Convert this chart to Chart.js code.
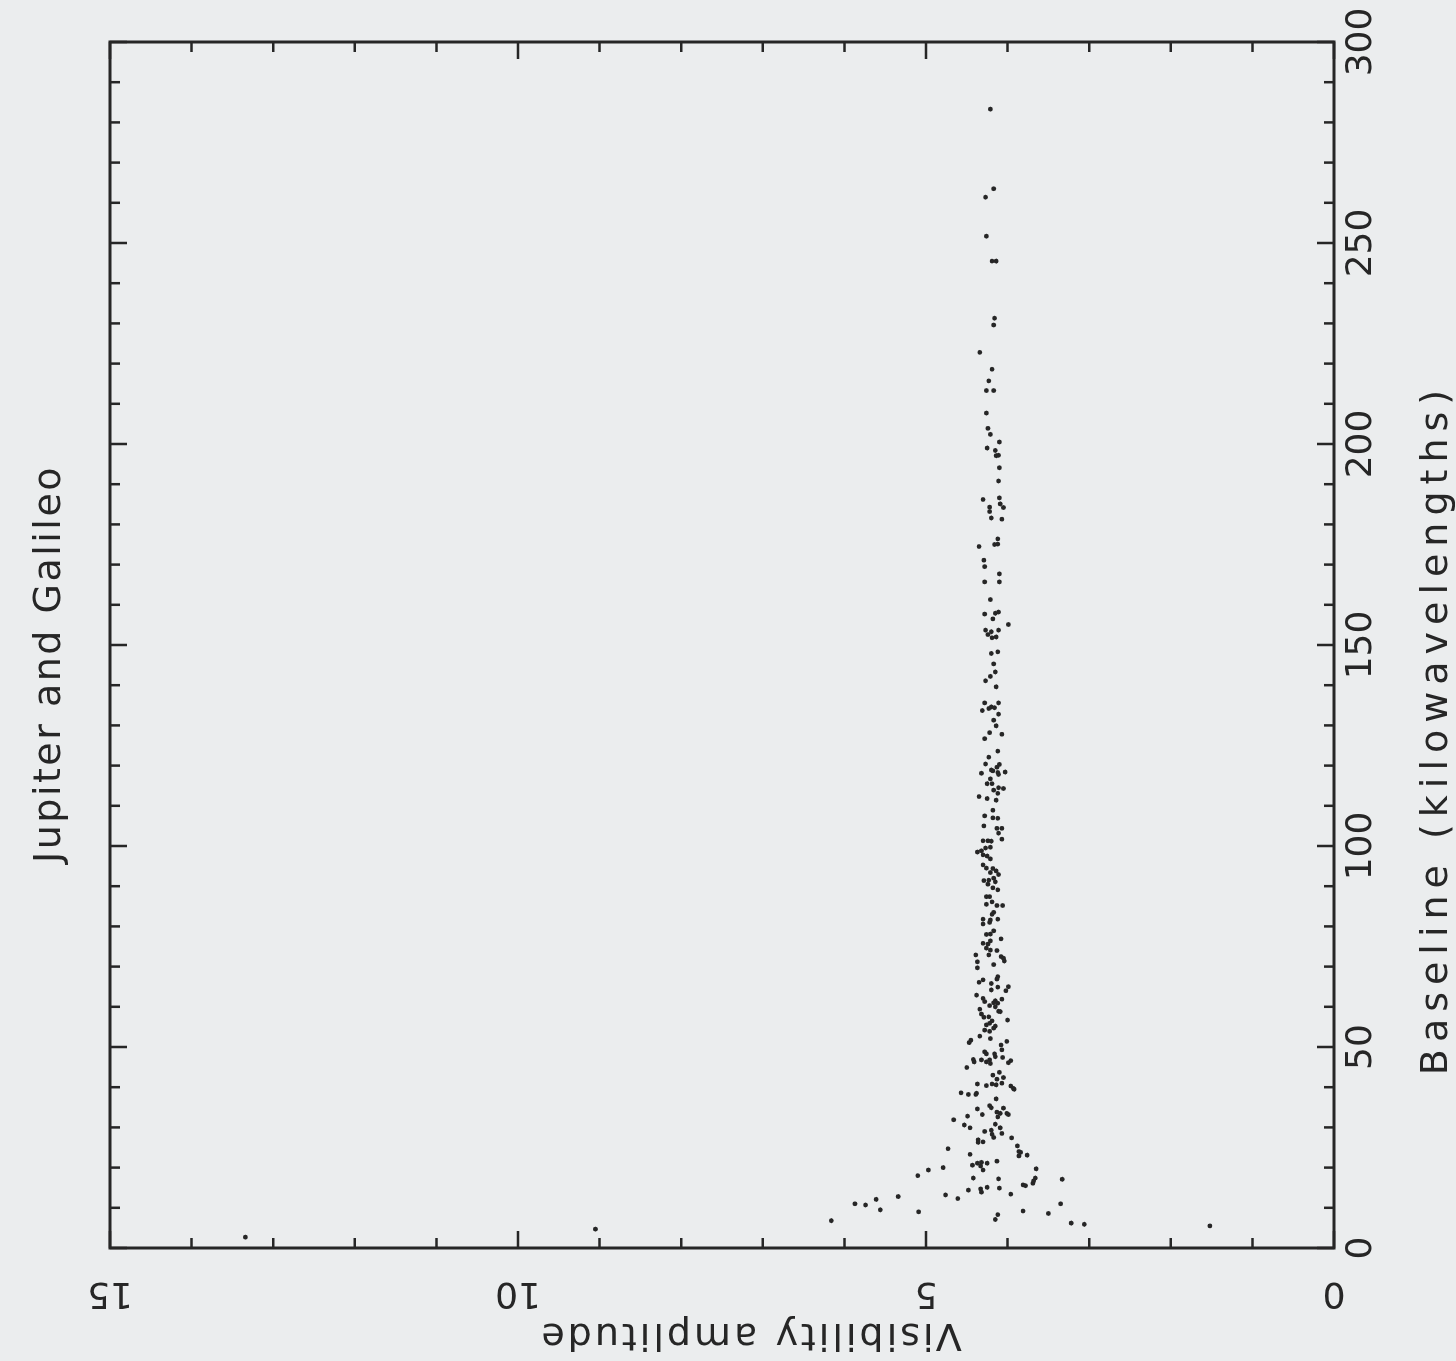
<!DOCTYPE html>
<html>
<head>
<meta charset="utf-8">
<script src="https://cdn.jsdelivr.net/npm/chart.js@4.4.1/dist/chart.umd.min.js"></script>
<style>
  html, body { margin: 0; padding: 0; overflow: hidden; background: #ebedee; }
  #page { position: relative; width: 1456px; height: 1361px; overflow: hidden; }
  /* the plot is drawn upright and turned a quarter turn, like the scanned page */
  #plot { position: absolute; left: 0; top: 0; transform-origin: 0 0; transform: translate(0, 1361px) rotate(-90deg); }
</style>
</head>
<body>
<div id="page"><canvas id="plot" width="1361" height="1456"></canvas></div>
<script>
const titleText = "Jupiter and Galileo";
const xTitle = "Baseline (kilowavelengths)";
const yTitle = "Visibility amplitude";
const xMajorTicks = [0, 50, 100, 150, 200, 250, 300];
const yMajorTicks = [0, 5, 10, 15];

// baseline (kilowavelengths)
const baseline = [
  283.3, 263.5, 261.4, 251.7, 245.5, 245.5,
  231.3, 229.6, 222.8, 218.6, 215.7, 213.3, 213.3, 207.7, 203.9, 202.4, 200.5, 199.0, 198.4, 197.1, 197.2, 194.1, 190.8, 186.2, 186.6, 185.1, 184.2, 184.3, 183.2, 181.6, 181.3,
  176.4, 175.0, 175.1, 174.5, 171.1, 169.5, 167.7, 165.7, 165.7, 161.3, 157.7, 157.9, 158.2, 156.5, 155.1, 153.7, 152.6, 153.3, 153.7, 151.8, 152.0, 147.9, 148.3, 145.3, 143.3, 142.2, 141.1, 139.6, 135.6, 135.6, 134.2, 134.6, 134.4, 133.7, 132.8, 131.3, 129.9, 128.2, 127.8, 126.7,
  123.6, 122.1, 120.4, 120.3, 119.6, 118.1, 118.7, 118.3, 117.8, 118.4, 118.9, 116.7, 115.5, 115.5, 114.5, 114.3, 113.9, 113.1, 112.3, 111.8, 111.4, 108.9, 107.5, 107.0, 106.9, 105.0, 104.4, 104.4, 103.2, 101.7, 101.3, 101.3, 101.2, 98.5, 98.8, 99.5, 99.7, 97.8, 97.5, 96.8, 95.3, 94.5, 94.4, 93.4, 93.8, 92.9, 91.4, 91.5, 92.0, 91.1, 90.5, 89.6, 89.1, 87.4, 87.4, 86.1, 85.5, 85.2, 85.2, 83.5, 83.0, 81.8, 81.6, 81.8, 80.6, 81.0, 78.9, 78.0, 78.1, 76.9, 75.8, 75.6, 76.4, 74.6, 74.1, 74.0, 72.9, 72.9, 72.5, 72.1,
  71.2, 69.7, 70.5, 71.4, 67.5, 66.9, 66.1, 66.7, 65.8, 64.2, 64.9, 65.0, 64.0, 62.9, 62.1, 61.3, 61.5, 60.9, 61.0, 61.9, 60.3, 60.0, 59.4, 58.9, 58.8, 58.2, 57.4, 57.5, 56.5, 55.9, 55.5, 56.7, 55.2, 54.7, 54.2, 53.9, 52.7, 52.1, 51.7, 51.1, 51.4, 50.5, 49.3, 48.8, 48.3, 48.3, 47.6, 46.9, 46.3, 46.8, 46.3, 46.8, 45.9, 47.4, 46.6, 46.1, 44.9, 43.0, 43.7, 42.0, 42.4, 40.8, 40.4, 40.8, 40.6, 41.0, 40.3, 39.7, 39.5, 38.6, 38.2, 38.5, 38.2, 37.1, 34.6, 35.4, 34.9, 34.8,
  33.8, 33.5, 33.5, 33.2, 32.8, 33.2, 32.6, 31.9, 30.6, 29.9, 30.8, 29.9, 29.0, 29.3, 28.3, 27.5, 28.5, 26.9, 26.3, 26.4, 27.4, 24.7, 23.3, 25.4, 24.0, 23.8, 22.9, 23.1, 21.6, 20.6, 21.1, 21.3, 20.4, 19.4, 21.1, 20.0, 19.4, 18.0, 17.4, 17.2, 19.7, 17.4, 15.7, 15.5, 16.1, 16.7, 14.4, 14.7, 13.9, 15.1, 14.9, 13.2, 12.3, 13.4, 12.8, 12.1, 11.0, 10.7, 9.5, 9.0, 9.2, 8.6, 8.3, 7.1, 6.8,
  17.1, 11.0, 6.2, 5.9, 5.5,
  4.7, 2.7
];

// visibility amplitude
const amplitude = [
  4.21, 4.17, 4.27, 4.26, 4.19, 4.14,
  4.16, 4.17, 4.34, 4.19, 4.23, 4.26, 4.17, 4.26, 4.24, 4.21, 4.10, 4.25, 4.15, 4.14, 4.11, 4.10, 4.11, 4.30, 4.10, 4.09, 4.05, 4.22, 4.22, 4.20, 4.07,
  4.12, 4.16, 4.12, 4.35, 4.29, 4.28, 4.10, 4.28, 4.10, 4.21, 4.28, 4.15, 4.11, 4.18, 3.99, 4.27, 4.24, 4.20, 4.11, 4.19, 4.14, 4.20, 4.12, 4.17, 4.15, 4.21, 4.27, 4.14, 4.28, 4.11, 4.23, 4.20, 4.16, 4.31, 4.11, 4.17, 4.14, 4.22, 4.07, 4.28,
  4.12, 4.23, 4.27, 4.10, 4.13, 4.32, 4.18, 4.12, 4.11, 4.03, 4.20, 4.21, 4.25, 4.19, 4.11, 4.05, 4.17, 4.12, 4.35, 4.25, 4.14, 4.18, 4.28, 4.18, 4.12, 4.29, 4.13, 4.07, 4.11, 4.07, 4.30, 4.24, 4.20, 4.37, 4.32, 4.27, 4.21, 4.30, 4.25, 4.21, 4.30, 4.26, 4.18, 4.21, 4.14, 4.11, 4.29, 4.23, 4.17, 4.15, 4.24, 4.18, 4.12, 4.26, 4.22, 4.19, 4.26, 4.13, 4.06, 4.17, 4.19, 4.30, 4.21, 4.12, 4.30, 4.22, 4.17, 4.26, 4.21, 4.08, 4.30, 4.24, 4.21, 4.26, 4.21, 4.13, 4.39, 4.23, 4.08, 4.05,
  4.37, 4.37, 4.17, 4.04, 4.12, 4.13, 4.35, 4.30, 4.20, 4.20, 4.12, 3.99, 4.02, 4.38, 4.30, 4.28, 4.15, 4.12, 4.17, 4.07, 4.22, 4.15, 4.34, 4.11, 4.09, 4.32, 4.29, 4.23, 4.19, 4.22, 4.26, 4.00, 4.15, 4.17, 4.28, 4.22, 4.34, 4.21, 4.45, 4.47, 4.01, 4.08, 4.07, 4.28, 4.26, 4.16, 4.15, 4.42, 4.41, 4.32, 4.26, 4.22, 4.21, 4.06, 3.96, 3.99, 4.50, 4.18, 4.10, 4.13, 4.05, 4.37, 4.26, 4.19, 4.14, 4.07, 3.96, 3.93, 3.92, 4.57, 4.48, 4.38, 4.39, 4.14, 4.37, 4.22, 4.20, 4.05,
  4.13, 4.09, 4.01, 3.99, 4.49, 4.31, 4.12, 4.66, 4.53, 4.46, 4.15, 4.09, 4.28, 4.20, 4.19, 4.17, 4.07, 4.36, 4.36, 4.30, 3.95, 4.73, 4.46, 3.88, 3.86, 3.84, 3.86, 3.76, 4.13, 4.43, 4.37, 4.32, 4.33, 4.30, 4.25, 4.79, 4.97, 5.10, 4.42, 4.11, 3.65, 3.66, 3.81, 3.78, 3.69, 3.68, 4.48, 4.33, 4.32, 4.25, 4.10, 4.76, 4.61, 3.96, 5.34, 5.61, 5.87, 5.74, 5.56, 5.09, 3.81, 3.50, 4.12, 4.15, 6.16,
  3.33, 3.35, 3.22, 3.06, 1.52,
  9.05, 13.34
];

const points = baseline.map((b, i) => ({ x: b, y: amplitude[i] }));

const ink = "#262626";
const tickFont = { family: "DejaVu Sans", size: 36 };

// box round the plot, with ticks on all four sides pointing inwards
const frame = {
  id: "frame",
  afterDraw(chart) {
    const { ctx, chartArea: a, scales: { x, y } } = chart;
    ctx.save();
    ctx.strokeStyle = ink;
    ctx.lineWidth = 3;
    ctx.strokeRect(a.left, a.top, a.right - a.left, a.bottom - a.top);
    ctx.lineWidth = 2.5;
    ctx.beginPath();
    x.ticks.forEach((t) => {
      const px = x.getPixelForValue(t.value);
      const len = xMajorTicks.includes(t.value) ? 17 : 10;
      ctx.moveTo(px, a.bottom); ctx.lineTo(px, a.bottom - len);
      ctx.moveTo(px, a.top); ctx.lineTo(px, a.top + len);
    });
    y.ticks.forEach((t) => {
      const py = y.getPixelForValue(t.value);
      const len = yMajorTicks.includes(t.value) ? 17 : 10;
      ctx.moveTo(a.left, py); ctx.lineTo(a.left + len, py);
      ctx.moveTo(a.right, py); ctx.lineTo(a.right - len, py);
    });
    ctx.stroke();

    ctx.fillStyle = ink;
    ctx.font = "38px 'DejaVu Sans'";
    ctx.textAlign = "center";
    ctx.textBaseline = "alphabetic";
    ctx.letterSpacing = "2.5px";
    ctx.fillText(titleText, 697, 60);
    ctx.letterSpacing = "7px";
    ctx.fillText(xTitle, 632, 1447);
    ctx.letterSpacing = "3px";
    ctx.translate(37, 750);
    ctx.rotate(-Math.PI / 2);
    ctx.fillText(yTitle, 0, 0);
    ctx.restore();
  }
};

new Chart(document.getElementById("plot"), {
  type: "scatter",
  data: {
    datasets: [{
      data: points,
      pointRadius: 2.4,
      pointBorderWidth: 0,
      pointBackgroundColor: ink
    }]
  },
  options: {
    responsive: false,
    animation: false,
    layout: { padding: { left: 0, top: 110, right: 42, bottom: 0 } },
    plugins: { legend: { display: false }, tooltip: { enabled: false } },
    scales: {
      x: {
        type: "linear",
        min: 0,
        max: 300,
        afterFit: (s) => { s.height = 122; },
        grid: { display: false, drawTicks: false },
        border: { display: false },
        ticks: {
          stepSize: 10,
          autoSkip: false,
          maxRotation: 0,
          padding: 6,
          color: ink,
          font: tickFont,
          callback: (v) => (xMajorTicks.includes(v) ? v : "")
        }
      },
      y: {
        type: "linear",
        min: 0,
        max: 15,
        afterFit: (s) => { s.width = 113; },
        grid: { display: false, drawTicks: false },
        border: { display: false },
        ticks: {
          stepSize: 1,
          autoSkip: false,
          minRotation: 90,
          maxRotation: 90,
          crossAlign: "center",
          padding: 21,
          color: ink,
          font: tickFont,
          callback: (v) => (yMajorTicks.includes(v) ? v : "")
        }
      }
    }
  },
  plugins: [frame]
});
</script>
</body>
</html>
